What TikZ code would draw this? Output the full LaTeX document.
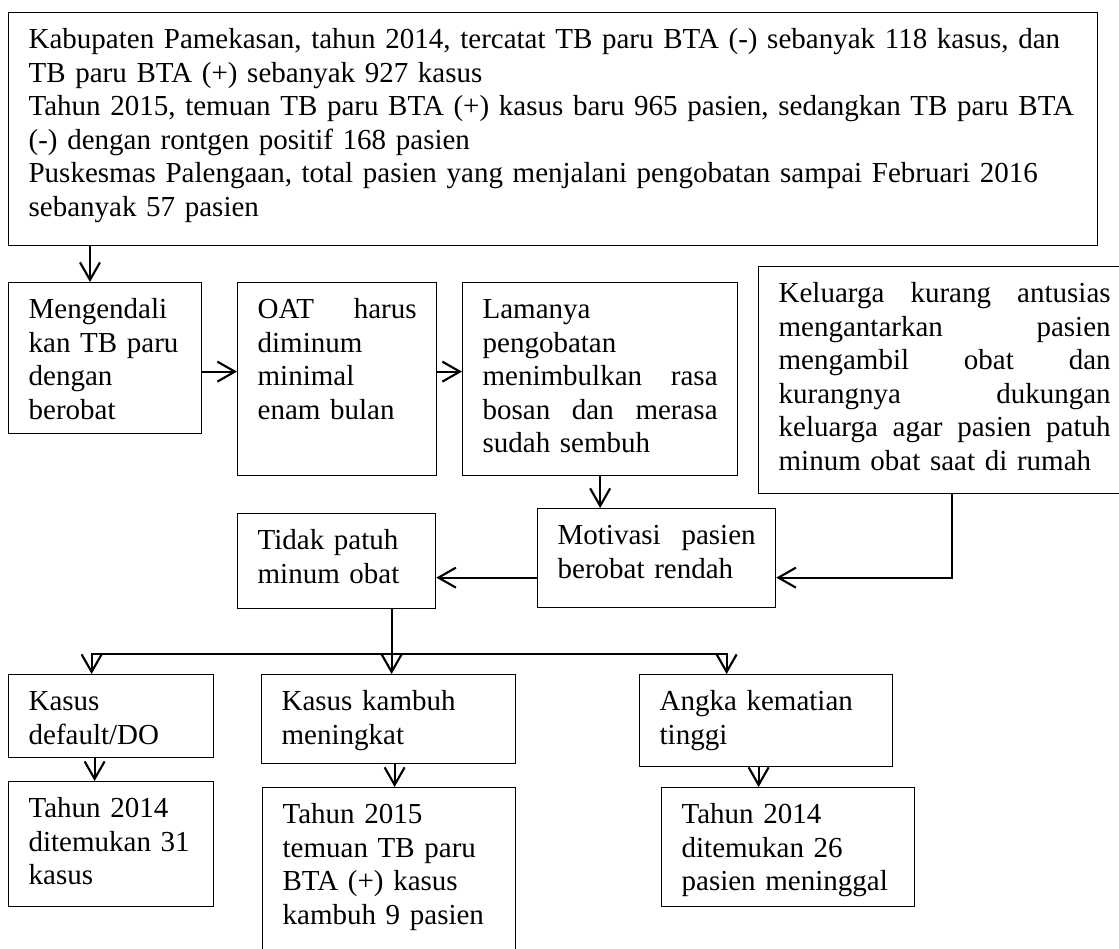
\documentclass[tikz,border=0pt]{standalone}
\usepackage{fontspec}
\setmainfont{Liberation Serif}
\usetikzlibrary{arrows.meta}

\begin{document}
\begin{tikzpicture}[x=0.4pt, y=-0.4pt, font=\fontsize{11.6}{13.4}\selectfont]
% Styles:
\tikzset{box/.style={draw, line width=0.5pt, anchor=north west, align=left, inner xsep=8pt, inner ysep=0pt, text height=14.4pt}}
\tikzset{arr/.style={-{Straight Barb[length=7pt, width=8pt]}, line width=0.85pt}}

% Frame:
\useasboundingbox (0,0) rectangle (1119,948);

% Top node:
\node[box, text width=419.6pt, text depth=78.8pt] (data) at (8,12) {Kabupaten Pamekasan, tahun 2014, tercatat TB paru BTA (-) sebanyak 118 kasus, dan\\ TB paru BTA (+) sebanyak 927 kasus\\ Tahun 2015, temuan TB paru BTA (+) kasus baru 965 pasien, sedangkan TB paru BTA\\ (-) dengan rontgen positif 168 pasien\\ Puskesmas Palengaan, total pasien yang menjalani pengobatan sampai Februari 2016\\ sebanyak 57 pasien};

% Causes:
\node[box, text width=61.2pt, text depth=46pt]   (ctrl) at (8,282) {Mengendali\\ kan TB paru\\ dengan\\ berobat};
\node[box, text width=63.6pt, text depth=62.8pt] (oat)  at (237,282) {OAT\hfill harus\\ diminum\\ minimal\\ enam bulan};
\node[box, text width=94pt, text depth=62.8pt]   (lama) at (462,282) {Lamanya\\ pengobatan\\ menimbulkan\hfill rasa\\ bosan\hfill dan\hfill merasa\\ sudah sembuh};
\node[box, text width=132.8pt, text depth=76.4pt] (kel) at (758,266) {Keluarga\hfill kurang\hfill antusias\\ mengantarkan\hfill pasien\\ mengambil\hfill obat\hfill dan\\ kurangnya\hfill dukungan\\ keluarga\hfill agar\hfill pasien\hfill patuh\\ minum obat saat di rumah};

% Middle nodes:
\node[box, text width=79.2pt, text depth=25.2pt] (motiv) at (537,508) {Motivasi\hfill pasien\\ berobat rendah};
\node[box, text width=63.2pt, text depth=23.6pt] (tidak) at (237,513) {Tidak patuh\\ minum obat};

% Effects:
\node[box, text width=66pt, text depth=18.8pt]   (ndflt)   at (8,674)   {Kasus\\ default/DO};
\node[box, text width=85.6pt, text depth=21.2pt] (nkambuh) at (261,674) {Kasus kambuh\\ meningkat};
\node[box, text width=85.2pt, text depth=22.4pt] (nmati)   at (639,674) {Angka kematian\\ tinggi};

% Data below:
\node[box, text width=66pt, text depth=35.6pt]   (tdflt)   at (8,781)   {Tahun 2014\\ ditemukan 31\\ kasus};
\node[box, text width=85.2pt, text depth=54pt]   (tkambuh) at (262,787) {Tahun 2015\\ temuan TB paru\\ BTA (+) kasus\\ kambuh 9 pasien};
\node[box, text width=85.2pt, text depth=33.2pt] (tmati)   at (661,787) {Tahun 2014\\ ditemukan 26\\ pasien meninggal};

% Arrows:
\draw[arr] ([xshift=32.8pt]ctrl.north west |- data.south) -- ([xshift=32.8pt]ctrl.north west);
\draw[arr] ([yshift=-5.4pt]ctrl.east) -- ([yshift=-5.4pt]ctrl.east -| oat.west);
\draw[arr] ([yshift=3pt]oat.east) -- ([yshift=3pt]oat.east -| lama.west);
\draw[arr] (lama.south) -- (lama.south |- motiv.north);
\draw[arr] ([yshift=-7.8pt]motiv.west) -- ([yshift=-7.8pt]motiv.west -| tidak.east);
\draw[arr] ([xshift=2.8pt]kel.south) |- ([yshift=-7.8pt]motiv.east);

% Branches:
\coordinate (split) at ([xshift=22pt]tidak.south |- 0,654);
\draw[arr] ([xshift=22pt]tidak.south) -- ([xshift=22pt]tidak.south |- nkambuh.north);
\draw[arr] (split) -| ([xshift=-7.8pt]ndflt.north);
\draw[arr] (split) -| ([xshift=-15.8pt]nmati.north);
\draw[arr] ([xshift=-6.6pt]ndflt.south) -- ([xshift=-6.6pt]ndflt.south |- tdflt.north);
\draw[arr] ([xshift=2.4pt]nkambuh.south) -- ([xshift=2.4pt]nkambuh.south |- tkambuh.north);
\draw[arr] ([xshift=-3pt]nmati.south) -- ([xshift=-3pt]nmati.south |- tmati.north);
\end{tikzpicture}
\end{document}
